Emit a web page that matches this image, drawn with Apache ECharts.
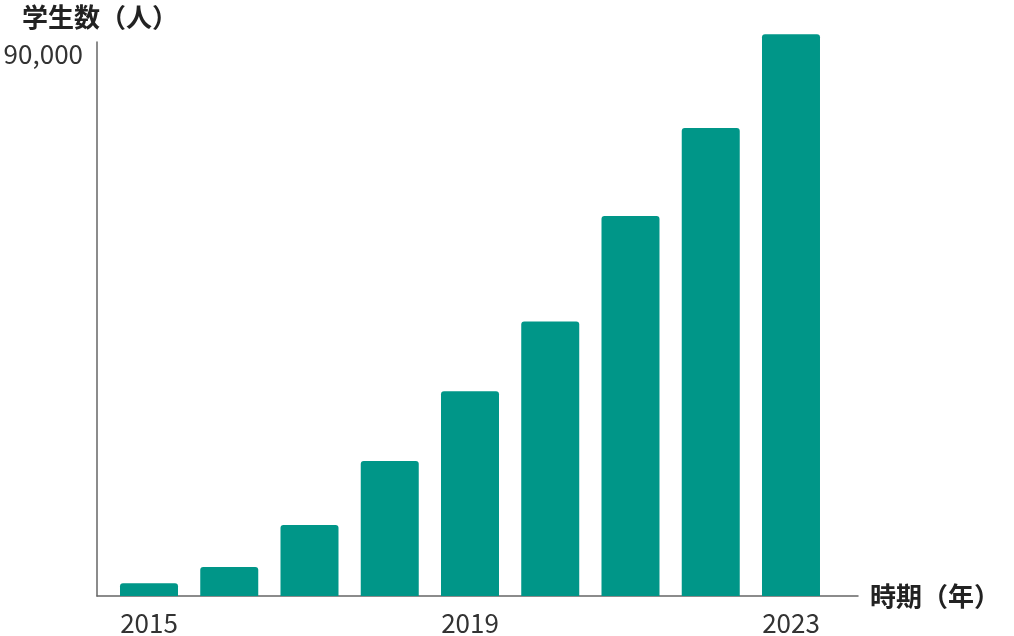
<!DOCTYPE html>
<html>
<head>
<meta charset="utf-8">
<script src="https://cdn.jsdelivr.net/npm/echarts@6/dist/echarts.min.js"></script>
<style>html,body{margin:0;padding:0;background:#fff;}#c{width:1014px;height:636px;}</style>
</head>
<body>
<div id="c"></div>
<script>
const years = [2015, 2016, 2017, 2018, 2019, 2020, 2021, 2022, 2023];
const students = [2100, 4800, 11800, 22400, 34000, 45600, 63100, 77700, 93300];
const xTickLabels = [2015, 2019, 2023];
const yTickLabels = [90000];
const yName = '学生数（人）';
const xName = '時期（年）';

const chart = echarts.init(document.getElementById('c'));
const font = '"Noto Sans CJK JP", "Noto Sans", sans-serif';
chart.setOption({
  animation: false,
  backgroundColor: '#fff',
  grid: { left: 97, right: 156, top: 42, bottom: 39, containLabel: false },
  xAxis: {
    type: 'value',
    min: 2014.352,
    max: 2023.835,
    name: xName,
    nameLocation: 'end',
    nameGap: 12,
    nameTextStyle: { fontFamily: font, fontSize: 26, fontWeight: 'bold', color: '#222' },
    axisLine: { show: true, lineStyle: { color: '#666', width: 1.5 } },
    axisTick: { show: false },
    splitLine: { show: false },
    axisLabel: {
      customValues: xTickLabels,
      formatter: v => String(Math.round(v)),
      fontFamily: font, fontSize: 26, color: '#333', margin: 14
    }
  },
  yAxis: {
    type: 'value',
    min: 0,
    max: 92000,
    name: yName,
    nameLocation: 'end',
    nameGap: 12,
    nameTextStyle: { fontFamily: font, fontSize: 26, fontWeight: 'bold', color: '#222', align: 'center', padding: [0, 0, 0, 6] },
    axisLine: { show: true, lineStyle: { color: '#666', width: 1.5 } },
    axisTick: { show: false },
    splitLine: { show: false },
    axisLabel: {
      customValues: yTickLabels,
      formatter: v => v.toLocaleString('en-US'),
      fontFamily: font, fontSize: 26, color: '#333', margin: 14
    }
  },
  series: [{
    type: 'bar',
    clip: false,
    barWidth: 58,
    data: years.map((y, i) => [y, students[i]]),
    itemStyle: { color: '#009688', borderRadius: [3, 3, 0, 0] }
  }]
});
</script>
</body>
</html>
